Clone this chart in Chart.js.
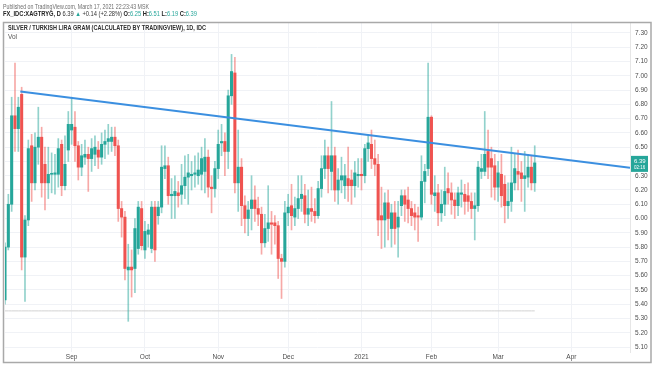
<!DOCTYPE html>
<html>
<head>
<meta charset="utf-8">
<title>XAGTRYG 1D</title>
<script src="https://cdn.jsdelivr.net/npm/chart.js@4.4.1/dist/chart.umd.min.js"></script>
<style>
  html, body { margin: 0; padding: 0; background: #fff; }
  canvas { display: block; }
</style>
</head>
<body>
<canvas id="chart" width="654" height="366"></canvas>
<script>
// ── Daily candles, Aug 2020 → 17 Mar 2021 ────────────────────────────────
var opens  = [5.43,5.80,6.10,6.72,6.63,6.87,5.73,5.99,6.51,6.25,6.50,6.57,6.38,6.25,6.31,6.31,6.31,6.52,6.23,6.48,
              6.62,6.64,6.51,6.36,6.43,6.45,6.42,6.45,6.48,6.43,6.52,6.54,6.54,6.57,6.51,6.07,6.01,5.64,5.66,5.65,
              5.79,6.07,5.78,5.89,5.79,6.08,6.02,6.08,6.35,6.37,6.16,6.16,6.18,6.17,6.23,6.29,6.30,6.31,6.30,6.31,
              6.33,6.43,6.22,6.21,6.35,6.53,6.54,6.47,6.86,7.02,6.25,6.36,6.09,6.00,6.07,6.13,6.07,6.03,5.83,5.93,
              5.97,5.97,5.95,5.72,5.70,6.04,6.09,6.01,6.07,6.14,6.16,6.03,6.07,6.05,6.02,6.21,6.35,6.44,6.33,6.44,
              6.20,6.27,6.23,6.28,6.27,6.23,6.30,6.31,6.30,6.49,6.52,6.42,6.38,6.02,5.99,6.11,5.93,6.04,5.94,6.09,
              6.16,6.13,6.07,6.04,6.02,6.01,6.26,6.35,6.71,6.16,6.18,6.04,6.10,6.21,6.18,6.13,6.09,6.17,6.17,6.16,
              6.12,6.07,6.09,6.33,6.33,6.47,6.42,6.37,6.22,6.31,6.24,6.09,6.12,6.25,6.33,6.32,6.28,6.29,6.36,6.25];
var highs  = [5.83,6.17,6.85,7.09,6.85,6.92,6.02,6.55,6.59,6.60,6.78,6.64,6.50,6.50,6.46,6.45,6.56,6.55,6.58,6.75,
              6.85,6.75,6.54,6.52,6.55,6.50,6.56,6.58,6.54,6.60,6.62,6.66,6.64,6.64,6.55,6.12,6.05,5.82,5.78,6.00,
              6.12,6.12,5.98,5.96,6.12,6.12,6.12,6.51,6.51,6.43,6.28,6.30,6.26,6.38,6.44,6.45,6.40,6.44,6.46,6.50,
              6.56,6.48,6.30,6.40,6.62,6.66,6.60,6.90,7.15,7.13,6.62,6.42,6.16,6.12,6.30,6.23,6.15,6.08,6.03,6.23,
              6.05,6.02,5.98,5.75,6.12,6.17,6.24,6.15,6.30,6.30,6.24,6.20,6.22,6.14,6.26,6.44,6.55,6.50,6.82,6.50,
              6.35,6.43,6.38,6.50,6.34,6.40,6.42,6.42,6.52,6.58,6.62,6.55,6.45,6.22,6.18,6.20,6.10,6.12,6.12,6.20,
              6.20,6.22,6.12,6.10,6.08,6.44,6.38,7.09,6.72,6.30,6.24,6.20,6.36,6.32,6.25,6.18,6.22,6.27,6.24,6.25,
              6.18,6.18,6.40,6.45,6.75,6.62,6.50,6.45,6.40,6.45,6.30,6.25,6.50,6.45,6.48,6.40,6.47,6.45,6.44,6.51];
var lows   = [5.40,5.78,6.05,6.47,6.47,5.64,5.42,5.95,6.12,6.20,6.38,6.15,6.06,6.14,6.18,6.17,6.22,6.16,6.20,6.40,
              6.52,6.40,6.27,6.30,6.38,6.19,6.33,6.37,6.35,6.38,6.42,6.45,6.47,6.44,5.98,5.87,5.57,5.28,5.45,5.48,
              5.75,5.78,5.72,5.80,5.76,5.70,5.96,6.04,6.28,6.10,6.00,6.00,6.08,6.10,6.14,6.10,6.20,6.22,6.24,6.20,
              6.18,6.15,6.04,6.15,6.28,6.44,6.30,6.35,6.80,6.18,6.05,5.95,5.90,5.88,5.92,5.98,5.95,5.75,5.80,5.84,
              5.75,5.82,5.58,5.44,5.66,5.95,5.92,5.95,6.00,6.05,5.97,5.95,5.98,5.97,6.00,6.15,6.28,6.18,6.20,6.12,
              6.10,6.18,6.14,6.12,6.10,6.15,6.22,6.20,6.25,6.40,6.35,6.30,5.88,5.79,5.80,5.85,5.80,5.82,5.73,6.02,
              5.98,5.97,5.95,5.92,5.84,5.99,6.11,6.30,6.10,6.05,5.95,5.98,6.02,6.10,6.03,6.00,6.02,6.08,6.03,6.05,
              6.00,5.85,6.05,6.28,6.30,6.28,6.15,6.13,6.12,6.08,5.97,6.00,6.05,6.20,6.20,6.12,6.05,6.22,6.20,6.19];
var closes = [5.80,6.10,6.72,6.63,6.78,5.73,5.99,6.49,6.25,6.50,6.57,6.25,6.25,6.31,6.31,6.32,6.49,6.23,6.38,6.66,
              6.66,6.51,6.36,6.44,6.45,6.42,6.49,6.50,6.43,6.52,6.54,6.56,6.57,6.51,6.07,6.01,5.65,5.66,5.64,5.93,
              6.08,5.81,5.91,5.92,6.08,5.78,6.08,6.36,6.37,6.16,6.17,6.19,6.16,6.23,6.29,6.32,6.31,6.32,6.34,6.42,
              6.43,6.22,6.21,6.35,6.52,6.54,6.47,6.86,7.03,6.25,6.36,6.09,6.00,6.06,6.13,6.07,6.03,5.83,5.93,5.97,
              5.96,5.95,5.72,5.70,6.04,6.08,6.02,6.07,6.14,6.17,6.03,6.07,6.05,6.02,6.21,6.35,6.44,6.35,6.44,6.20,
              6.27,6.30,6.30,6.23,6.23,6.32,6.31,6.30,6.49,6.53,6.42,6.38,5.99,5.99,6.11,6.00,6.04,5.93,6.01,6.16,
              6.10,6.07,6.02,6.01,6.01,6.26,6.33,6.71,6.17,6.18,6.04,6.10,6.19,6.18,6.13,6.09,6.18,6.18,6.12,6.12,
              6.07,6.09,6.36,6.35,6.45,6.36,6.36,6.22,6.32,6.16,6.09,6.12,6.25,6.35,6.31,6.28,6.30,6.36,6.25,6.39];
// FX_IDC carries no volume: the Vol pane is a flat zero line
var volumes = closes.map(function () { return 0; });

// ── Drawn trend line (bar index, price) ───────────────────────────────────
var trendX = [4.6, 187.6];
var trendY = [6.89, 6.355];

// ── Axis ticks ────────────────────────────────────────────────────────────
var xTickIdx  = [20, 42, 64, 85, 107, 128, 148, 170];
var xTickText = ['Sep', 'Oct', 'Nov', 'Dec', '2021', 'Feb', 'Mar', 'Apr'];
var yTicks    = [5.1,5.2,5.3,5.4,5.5,5.6,5.7,5.8,5.9,6.0,6.1,6.2,6.3,6.4,6.5,6.6,6.7,6.8,6.9,7.0,7.1,7.2,7.3];

// ── Header texts ──────────────────────────────────────────────────────────
var publishedText = 'Published on TradingView.com, March 17, 2021 22:23:43 MSK';
var titleText     = 'SILVER / TURKISH LIRA GRAM (CALCULATED BY TRADINGVIEW), 1D, IDC';
var lastPrice     = 6.39;
var countdown     = '02:16';

var UP = '#26a69a', DOWN = '#ef5350';
var UP_WICK = 'rgba(38,166,154,0.5)', DOWN_WICK = 'rgba(239,83,80,0.5)';
var FONT = '"Liberation Sans", Arial, sans-serif';

function isUp(i) { return closes[i] >= opens[i]; }

var wickData = closes.map(function (c, i) { return { x: i, y: [lows[i], highs[i]] }; });
var bodyData = closes.map(function (c, i) { return { x: i, y: [opens[i], c] }; });
var volData  = volumes.map(function (v, i) { return { x: i, y: v }; });

// ── Frame, header, legend and last-price tag ──────────────────────────────
var decorPlugin = {
    id: 'decor',
    beforeDraw: function (chart) {
        var ctx = chart.ctx;
        ctx.save();
        ctx.fillStyle = '#fff';
        ctx.fillRect(0, 0, chart.width, chart.height);
        ctx.restore();
    },
    afterDraw: function (chart) {
        var ctx = chart.ctx;
        var area = chart.chartArea;
        ctx.save();
        ctx.textBaseline = 'middle';
        ctx.textAlign = 'left';

        // published line
        ctx.font = '6.5px ' + FONT;
        ctx.fillStyle = '#6e6e6e';
        ctx.fillText(publishedText, 3, 7, 146);

        // symbol / OHLC line
        var segs = [
            ['FX_IDC:XAGTRYG, D ', '#222', 'bold '],
            ['6.39 ', '#333', ''],
            ['\u25B2 ', UP, ''],
            ['+0.14 (+2.28%) ', '#333', ''],
            ['O:', '#222', 'bold '], ['6.25 ', UP, ''],
            ['H:', '#222', 'bold '], ['6.51 ', UP, ''],
            ['L:', '#222', 'bold '], ['6.19 ', UP, ''],
            ['C:', '#222', 'bold '], ['6.39', UP, '']
        ];
        var total = 0;
        segs.forEach(function (s) { ctx.font = s[2] + '6.5px ' + FONT; total += ctx.measureText(s[0]).width; });
        var k = Math.min(1, 194 / total);
        var x = 3;
        segs.forEach(function (s) {
            ctx.font = s[2] + '6.5px ' + FONT;
            var w = ctx.measureText(s[0]).width * k;
            ctx.fillStyle = s[1];
            ctx.fillText(s[0], x, 14.5, w);
            x += w;
        });

        // chart frame
        ctx.strokeStyle = '#a9a9a9';
        ctx.lineWidth = 1.5;
        ctx.strokeRect(3.5, 22.5, 647.5, 340);

        // legend
        ctx.font = 'bold 6.5px ' + FONT;
        ctx.fillStyle = '#2e2e2e';
        ctx.fillText(titleText, 8, 28, 198);
        ctx.font = '6.5px ' + FONT;
        ctx.fillStyle = '#555';
        ctx.fillText('Vol', 8, 37.5);

        // last price tag
        var py = chart.scales.y.getPixelForValue(lastPrice);
        ctx.fillStyle = UP;
        ctx.fillRect(area.right + 1, py - 7, 17, 16);
        ctx.fillStyle = '#fff';
        ctx.font = '6px ' + FONT;
        ctx.fillText(lastPrice.toFixed(2), area.right + 4, py - 2);
        ctx.font = '4.5px ' + FONT;
        ctx.fillText(countdown, area.right + 4, py + 5);
        ctx.restore();
    }
};

new Chart(document.getElementById('chart'), {
    type: 'bar',
    data: {
        datasets: [
            {
                label: 'Vol',
                type: 'line',
                data: volData,
                yAxisID: 'yVol',
                borderColor: '#d2d2d2',
                borderWidth: 1,
                pointRadius: 0,
                order: 4
            },
            {
                label: 'Wicks',
                data: wickData,
                backgroundColor: closes.map(function (c, i) { return isUp(i) ? UP_WICK : DOWN_WICK; }),
                barThickness: 1,
                grouped: false,
                order: 3
            },
            {
                label: 'Bodies',
                data: bodyData,
                backgroundColor: closes.map(function (c, i) { return isUp(i) ? UP : DOWN; }),
                barThickness: 2.4,
                minBarLength: 1,
                grouped: false,
                order: 2
            },
            {
                label: 'Trend',
                type: 'line',
                data: trendX.map(function (v, i) { return { x: v, y: trendY[i] }; }),
                borderColor: '#3b8fe0',
                borderWidth: 2,
                pointRadius: 0,
                order: 1
            }
        ]
    },
    options: {
        responsive: false,
        devicePixelRatio: 1,
        animation: false,
        events: [],
        layout: { padding: { left: 5, top: 23, right: 4, bottom: 4 } },
        plugins: {
            legend: { display: false },
            tooltip: { enabled: false }
        },
        scales: {
            x: {
                type: 'linear',
                min: 0,
                max: 187.6,
                offset: false,
                border: { display: false },
                grid: { color: '#f0f2f6', drawTicks: false, offset: false },
                afterBuildTicks: function (scale) {
                    scale.ticks = xTickIdx.map(function (v) { return { value: v }; });
                },
                afterFit: function (scale) { scale.height = 10; },
                ticks: {
                    autoSkip: false,
                    maxRotation: 0,
                    padding: 1,
                    color: '#4d4d4d',
                    font: { family: FONT, size: 6.5 },
                    callback: function (v, idx) { return xTickText[idx]; }
                }
            },
            y: {
                position: 'right',
                min: 5.065,
                max: 7.37,
                border: { display: true, color: '#e6e6e6' },
                grid: { color: '#f0f2f6', drawTicks: false },
                afterBuildTicks: function (scale) {
                    scale.ticks = yTicks.map(function (v) { return { value: v }; });
                },
                afterFit: function (scale) { scale.width = 20; },
                ticks: {
                    padding: 5,
                    color: '#4d4d4d',
                    font: { family: FONT, size: 6.5 },
                    callback: function (v) { return v.toFixed(2); }
                }
            },
            yVol: {
                display: false,
                min: -0.125,
                max: 0.875
            }
        }
    },
    plugins: [decorPlugin]
});
</script>
</body>
</html>
